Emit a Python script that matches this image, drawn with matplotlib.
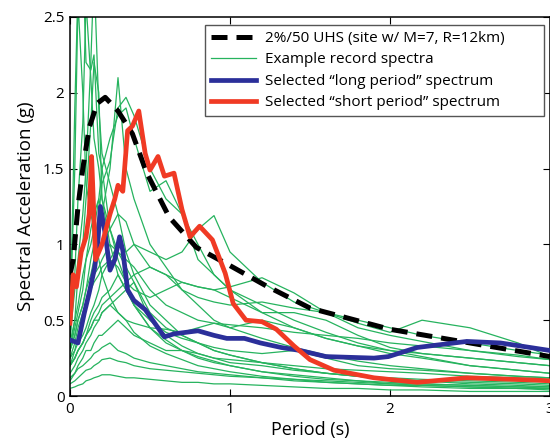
import matplotlib
matplotlib.use("Agg")
import matplotlib.pyplot as plt
import numpy as np

plt.rcParams["font.family"] = ["Open Sans", "DejaVu Sans"]

# UHS target spectrum
uhs_T = [0, 0.02, 0.05, 0.08, 0.12, 0.17, 0.22, 0.3, 0.39, 0.48, 0.62, 0.79, 1.0,
         1.22, 1.5, 2.0, 2.5, 3.0]
uhs_sa = [0.8, 0.9, 1.25, 1.5, 1.77, 1.93, 1.97, 1.88, 1.73, 1.47, 1.18, 0.98, 0.86,
          0.73, 0.58, 0.44, 0.35, 0.26]

# selected "short period" record
short_T = [0, 0.02, 0.04, 0.07, 0.1, 0.12, 0.135, 0.16, 0.2, 0.25, 0.28, 0.3, 0.33,
           0.36, 0.39, 0.43, 0.47, 0.5, 0.55, 0.59, 0.65, 0.7, 0.75, 0.81, 0.89,
           0.97, 1.02, 1.1, 1.2, 1.29, 1.4, 1.5, 1.65, 1.9, 2.17, 2.48, 2.9, 3.0]
short_sa = [0.48, 0.8, 0.72, 0.95, 1.05, 1.2, 1.58, 0.9, 1.0, 1.2, 1.3, 1.39, 1.35,
            1.75, 1.78, 1.88, 1.6, 1.49, 1.58, 1.45, 1.47, 1.23, 1.05, 1.12, 1.03,
            0.81, 0.61, 0.5, 0.49, 0.44, 0.33, 0.24, 0.17, 0.12, 0.09, 0.12, 0.105, 0.1]

# selected "long period" record
long_T = [0, 0.05, 0.09, 0.12, 0.155, 0.175, 0.19, 0.22, 0.25, 0.28, 0.31, 0.33, 0.36,
          0.4, 0.47, 0.59, 0.65, 0.8, 0.9, 0.98, 1.09, 1.19, 1.32, 1.44, 1.6, 1.9,
          1.99, 2.17, 2.48, 2.69, 3.0]
long_sa = [0.37, 0.35, 0.55, 0.68, 0.85, 1.03, 1.25, 1.07, 0.83, 0.9, 1.05, 0.96, 0.7,
           0.63, 0.57, 0.39, 0.41, 0.43, 0.40, 0.38, 0.38, 0.35, 0.32, 0.30, 0.26, 0.25,
           0.26, 0.32, 0.36, 0.35, 0.30]

# example record spectra (common period grid)
rec_T = [0, 0.03, 0.05, 0.08, 0.1, 0.13, 0.15, 0.18, 0.2, 0.25, 0.3, 0.35, 0.4, 0.5,
         0.6, 0.7, 0.8, 0.9, 1.0, 1.2, 1.4, 1.6, 1.8, 2.0, 2.2, 2.5, 2.8, 3.0]
records = [
    [0.45, 1.9, 2.7, 2.9, 2.2, 2.15, 2.25, 1.6, 1.5, 1.1, 0.9, 0.75, 0.6, 0.45, 0.35, 0.3, 0.25, 0.22, 0.2, 0.16, 0.13, 0.11, 0.1, 0.08, 0.07, 0.06, 0.05, 0.05],
    [0.4, 0.7, 0.9, 1.2, 1.5, 2.2, 2.8, 1.9, 1.6, 1.4, 1.2, 0.95, 0.8, 0.6, 0.5, 0.4, 0.35, 0.3, 0.27, 0.22, 0.18, 0.15, 0.13, 0.11, 0.1, 0.08, 0.07, 0.06],
    [0.3, 0.4, 0.5, 0.6, 0.7, 0.9, 1.0, 1.2, 1.4, 1.55, 1.9, 1.97, 1.85, 1.5, 1.3, 1.2, 1.0, 0.8, 0.7, 0.55, 0.45, 0.38, 0.33, 0.28, 0.25, 0.2, 0.17, 0.15],
    [0.25, 0.3, 0.35, 0.4, 0.45, 0.55, 0.6, 0.7, 0.8, 0.9, 1.0, 0.95, 1.0, 0.95, 0.9, 0.95, 1.1, 1.19, 0.95, 0.75, 0.62, 0.55, 0.5, 0.45, 0.4, 0.35, 0.3, 0.27],
    [0.2, 0.25, 0.3, 0.35, 0.4, 0.45, 0.5, 0.55, 0.6, 0.65, 0.7, 0.75, 0.8, 0.85, 0.8, 0.75, 0.72, 0.7, 0.72, 0.78, 0.68, 0.55, 0.48, 0.42, 0.5, 0.45, 0.35, 0.26],
    [0.35, 0.5, 0.6, 0.8, 0.9, 1.1, 1.2, 1.3, 1.5, 1.7, 1.85, 1.9, 1.7, 1.35, 1.42, 1.2, 0.9, 0.8, 0.7, 0.6, 0.5, 0.42, 0.35, 0.3, 0.26, 0.2, 0.17, 0.15],
    [0.5, 1.5, 2.6, 2.0, 1.4, 1.2, 1.1, 0.9, 0.8, 0.65, 0.55, 0.5, 0.42, 0.33, 0.28, 0.24, 0.2, 0.18, 0.16, 0.13, 0.11, 0.09, 0.08, 0.07, 0.06, 0.05, 0.05, 0.04],
    [0.3, 0.45, 0.55, 0.7, 0.9, 1.0, 1.1, 1.3, 1.2, 1.5, 2.1, 1.5, 1.3, 1.0, 0.85, 0.7, 0.6, 0.5, 0.45, 0.38, 0.32, 0.27, 0.23, 0.2, 0.18, 0.15, 0.13, 0.12],
    [0.25, 0.35, 0.45, 0.55, 0.6, 0.7, 0.8, 0.85, 0.9, 1.0, 0.95, 0.9, 0.85, 0.7, 0.6, 0.55, 0.5, 0.48, 0.45, 0.5, 0.45, 0.38, 0.33, 0.3, 0.28, 0.25, 0.22, 0.2],
    [0.2, 0.25, 0.3, 0.35, 0.4, 0.5, 0.55, 0.6, 0.65, 0.7, 0.8, 0.7, 0.6, 0.5, 0.42, 0.38, 0.35, 0.32, 0.3, 0.28, 0.3, 0.25, 0.2, 0.18, 0.17, 0.15, 0.13, 0.12],
    [0.12, 0.15, 0.18, 0.2, 0.22, 0.25, 0.28, 0.3, 0.32, 0.35, 0.3, 0.28, 0.25, 0.22, 0.2, 0.18, 0.16, 0.15, 0.14, 0.12, 0.1, 0.09, 0.08, 0.07, 0.07, 0.06, 0.05, 0.05],
    [0.05, 0.06, 0.07, 0.08, 0.1, 0.11, 0.12, 0.13, 0.14, 0.14, 0.13, 0.12, 0.12, 0.11, 0.1, 0.09, 0.09, 0.08, 0.08, 0.07, 0.06, 0.05, 0.05, 0.04, 0.04, 0.03, 0.03, 0.03],
    [0.15, 0.2, 0.25, 0.3, 0.35, 0.4, 0.45, 0.5, 0.55, 0.6, 0.65, 0.7, 0.75, 0.5, 0.4, 0.33, 0.28, 0.25, 0.22, 0.2, 0.17, 0.15, 0.13, 0.12, 0.11, 0.1, 0.09, 0.08],
    [0.3, 0.5, 0.8, 1.0, 1.3, 1.8, 2.2, 2.0, 1.3, 1.0, 0.8, 0.7, 0.6, 0.45, 0.37, 0.3, 0.26, 0.23, 0.2, 0.16, 0.14, 0.12, 0.1, 0.09, 0.08, 0.07, 0.06, 0.05],
    [0.2, 0.25, 0.3, 0.35, 0.4, 0.45, 0.5, 0.5, 0.55, 0.6, 0.55, 0.5, 0.48, 0.45, 0.44, 0.42, 0.45, 0.48, 0.47, 0.45, 0.42, 0.4, 0.38, 0.35, 0.33, 0.3, 0.27, 0.24],
    [0.1, 0.15, 0.2, 0.25, 0.3, 0.3, 0.35, 0.4, 0.4, 0.45, 0.5, 0.45, 0.4, 0.35, 0.3, 0.3, 0.28, 0.25, 0.24, 0.22, 0.2, 0.18, 0.17, 0.16, 0.15, 0.13, 0.12, 0.11],
    [0.3, 0.4, 0.5, 0.6, 0.7, 0.8, 0.9, 0.95, 1.0, 1.1, 1.2, 1.15, 1.0, 0.85, 0.8, 0.7, 0.65, 0.62, 0.6, 0.62, 0.58, 0.55, 0.45, 0.4, 0.36, 0.3, 0.26, 0.24],
    [0.2, 0.3, 0.4, 0.5, 0.6, 0.7, 0.75, 0.8, 0.85, 0.9, 0.85, 0.75, 0.7, 0.65, 0.7, 0.75, 0.72, 0.7, 0.65, 0.55, 0.55, 0.5, 0.4, 0.32, 0.28, 0.25, 0.22, 0.2],
    [0.08, 0.1, 0.12, 0.15, 0.17, 0.18, 0.2, 0.22, 0.24, 0.25, 0.23, 0.22, 0.2, 0.18, 0.17, 0.16, 0.15, 0.14, 0.13, 0.12, 0.11, 0.1, 0.09, 0.08, 0.08, 0.07, 0.06, 0.06],
    [0.35, 0.8, 1.3, 1.8, 2.6, 2.1, 1.7, 1.5, 1.3, 1.1, 0.95, 0.85, 0.75, 0.55, 0.45, 0.4, 0.35, 0.3, 0.27, 0.22, 0.18, 0.15, 0.13, 0.11, 0.1, 0.09, 0.08, 0.07],
]

fig = plt.figure(figsize=(5.5, 4.43), dpi=100)
ax = fig.add_axes([70 / 550, 1 - 396 / 443, 480 / 550, 379 / 443])

for i, sa in enumerate(records):
    ax.plot(rec_T, sa, color="#26b35e", lw=0.9,
            label="Example record spectra" if i == 0 else None, zorder=2)
ax.plot(uhs_T, uhs_sa, color="black", lw=3.6, ls=(0, (3.2, 1.8)),
        label="2%/50 UHS (site w/ M=7, R=12km)", zorder=3)
ax.plot(long_T, long_sa, color="#2b2f9a", lw=3.4,
        label="Selected \u201clong period\u201d spectrum", zorder=4)
ax.plot(short_T, short_sa, color="#f03a24", lw=3.4,
        label="Selected \u201cshort period\u201d spectrum", zorder=5)

ax.set_xlim(0, 3)
ax.set_ylim(0, 2.5)
ax.set_xticks([0, 1, 2, 3])
ax.set_yticks([0, 0.5, 1, 1.5, 2, 2.5])
ax.set_yticklabels(["0", "0.5", "1", "1.5", "2", "2.5"])
ax.tick_params(direction="in", top=True, right=True, length=5, labelsize=11, pad=4)
for s in ax.spines.values():
    s.set_linewidth(1.1)
ax.set_xlabel("Period (s)", fontsize=13, labelpad=3)
ax.set_ylabel("Spectral Acceleration (g)", fontsize=13.5, labelpad=6)

h, l = ax.get_legend_handles_labels()
order = [1, 0, 2, 3]
leg = ax.legend([h[i] for i in order], [l[i] for i in order],
                loc="upper left", bbox_to_anchor=(0.282, 0.0, 0.705, 0.979),
                mode="expand", borderaxespad=0,
                fontsize=11, fancybox=False, framealpha=1, edgecolor="#555555",
                handlelength=2.9, handletextpad=0.6, labelspacing=0.42, borderpad=0.4)
leg.get_frame().set_linewidth(1.0)

fig.savefig("out.png", dpi=100)
